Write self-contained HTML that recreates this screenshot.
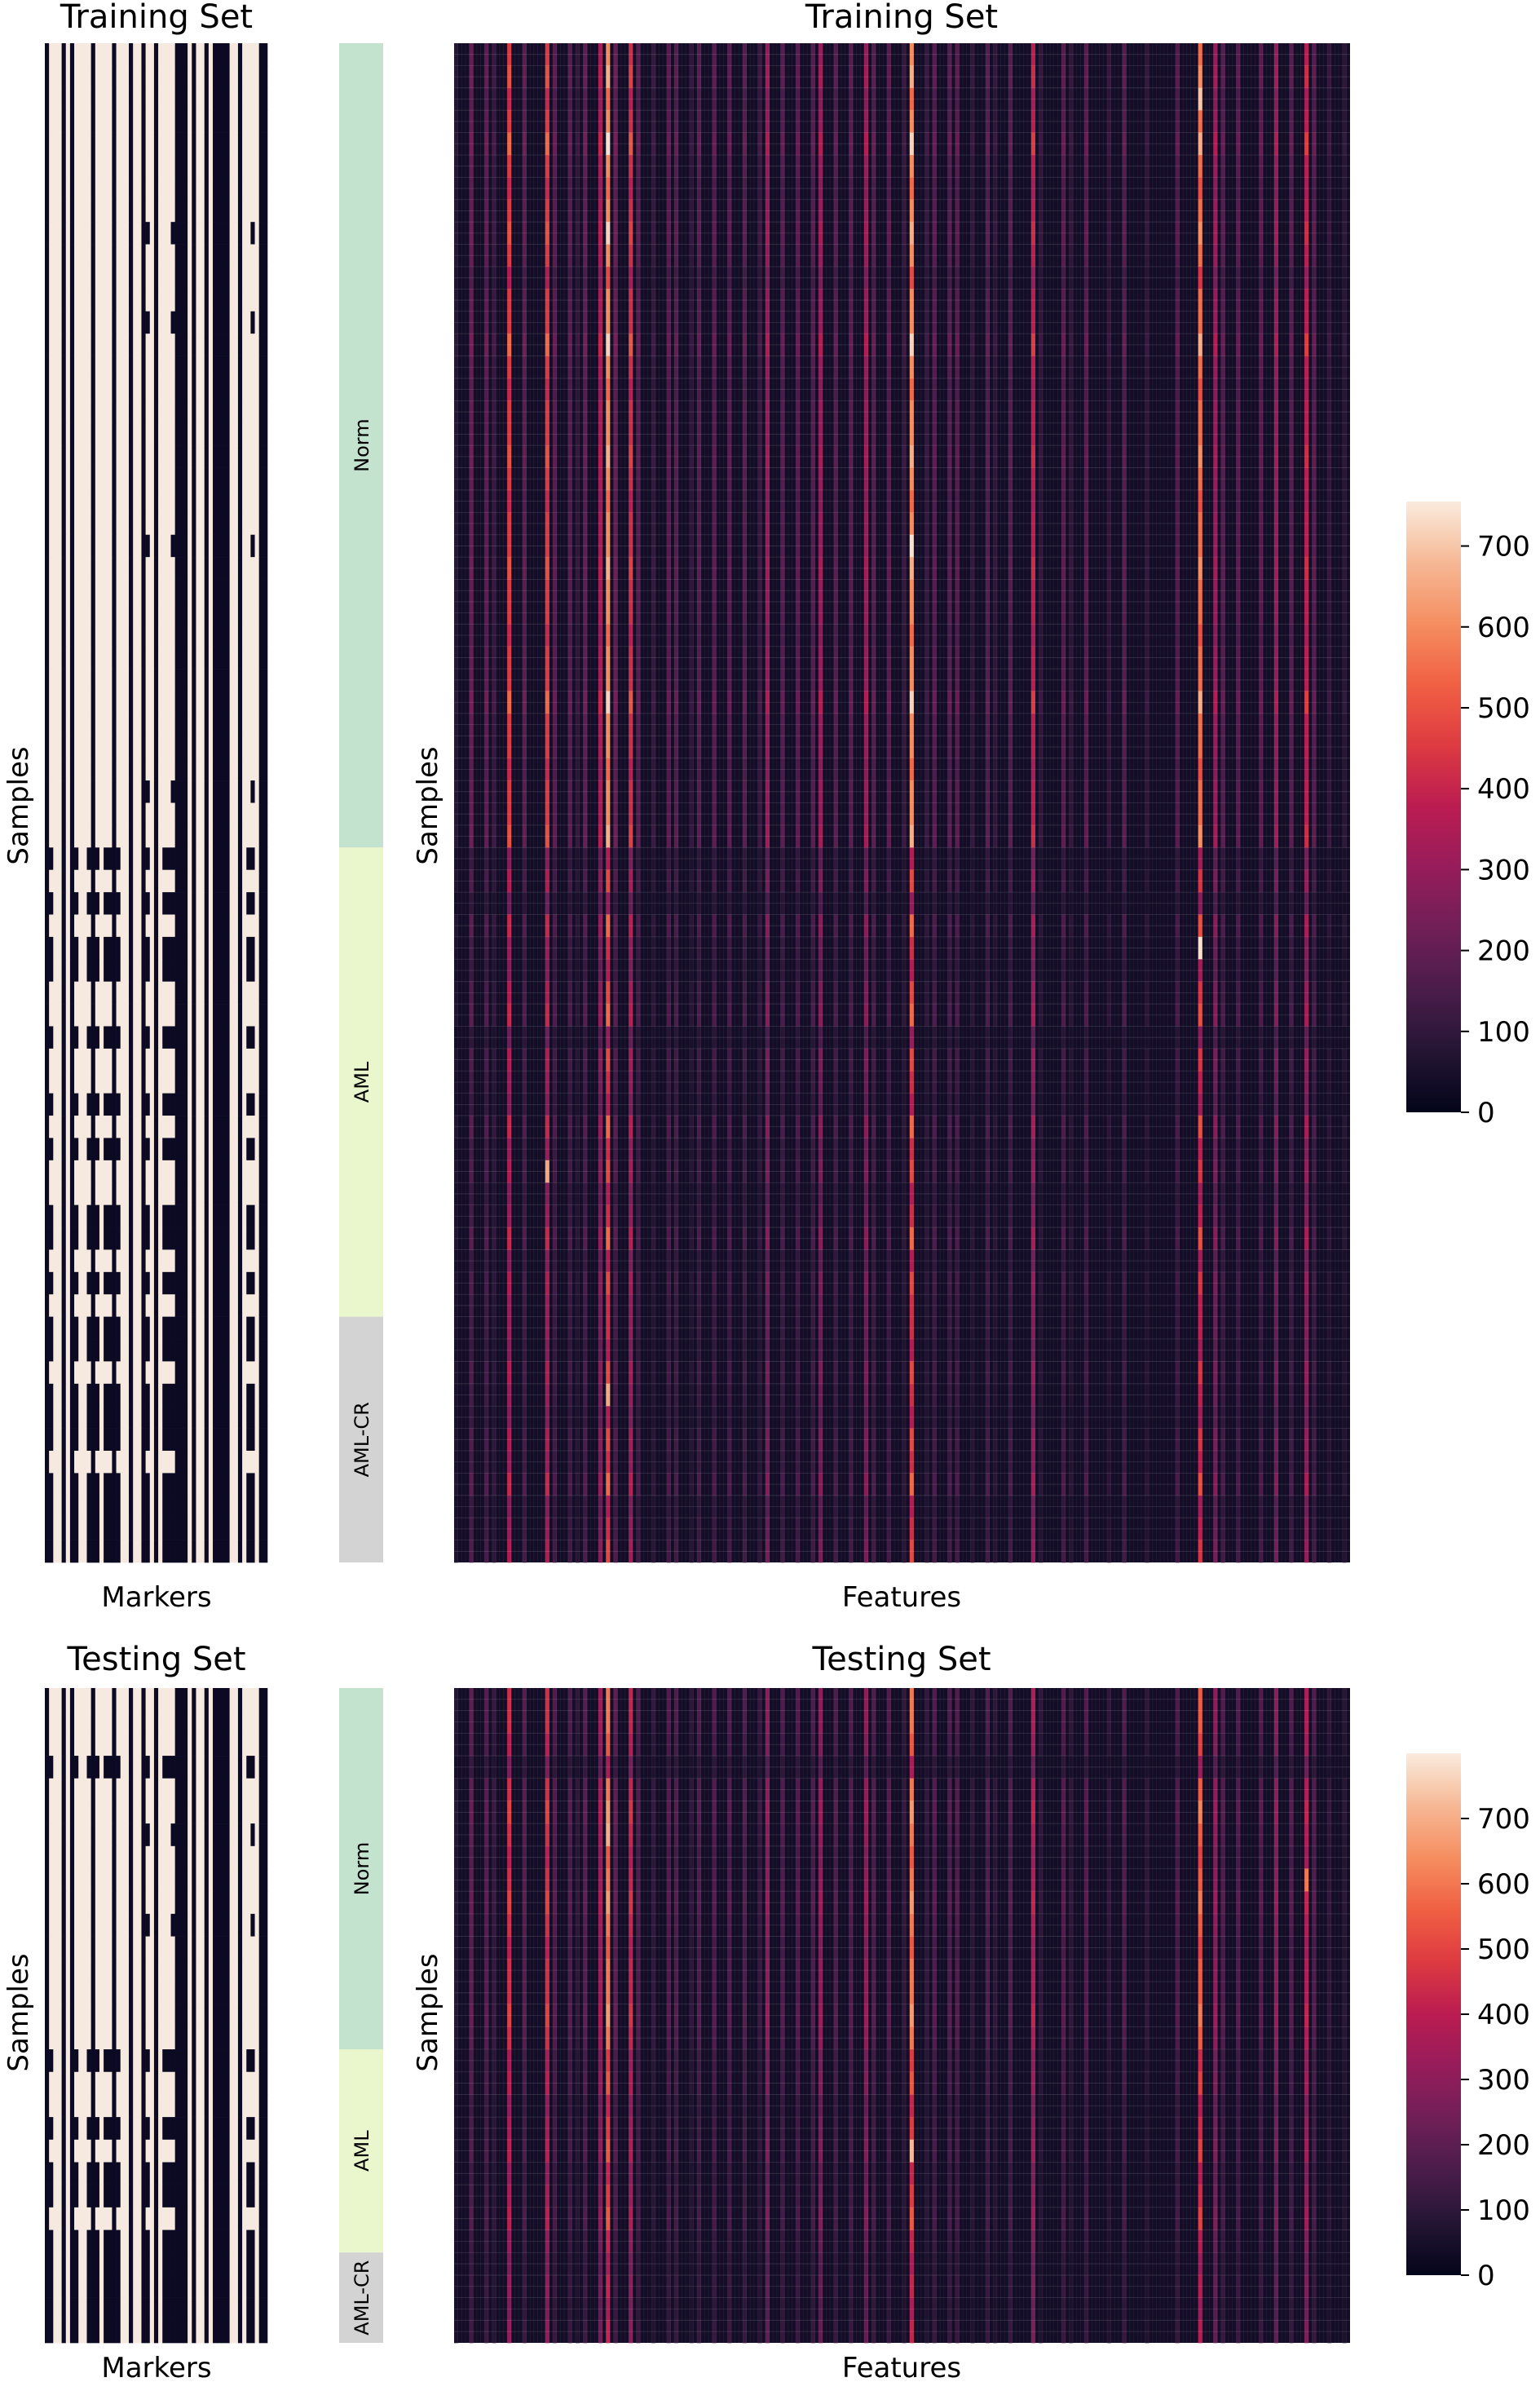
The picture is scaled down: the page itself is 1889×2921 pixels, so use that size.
<!DOCTYPE html>
<html><head><meta charset="utf-8"><style>
body{margin:0;background:#fff}
svg{display:block;font-family:"DejaVu Sans","Liberation Sans",sans-serif}
</style></head><body>
<svg id="fig" width="1889" height="2921" viewBox="0 0 1889 2921" xmlns="http://www.w3.org/2000/svg">
<text x="192" y="34" font-size="40" text-anchor="middle">Training Set</text>
<text x="1106" y="34" font-size="40" text-anchor="middle">Training Set</text>
<text x="192" y="1970" font-size="34" text-anchor="middle">Markers</text>
<text x="1106" y="1970" font-size="34" text-anchor="middle">Features</text>
<text transform="translate(34,988) rotate(-90)" font-size="34" text-anchor="middle">Samples</text>
<text transform="translate(536,988) rotate(-90)" font-size="34" text-anchor="middle">Samples</text>
<text x="192" y="2048" font-size="40" text-anchor="middle">Testing Set</text>
<text x="1106" y="2048" font-size="40" text-anchor="middle">Testing Set</text>
<text x="192" y="2915" font-size="34" text-anchor="middle">Markers</text>
<text x="1106" y="2915" font-size="34" text-anchor="middle">Features</text>
<text transform="translate(34,2468) rotate(-90)" font-size="34" text-anchor="middle">Samples</text>
<text transform="translate(536,2468) rotate(-90)" font-size="34" text-anchor="middle">Samples</text>
<g id="layer"></g>
</svg>
<script>
// ---- data ----
const featureStripeIdx = [0,2,4,5,7,9,12,13,15,16,17,19,20,21,23,24,26,28,29,31,32,34,36,38,40,41,43,45,47,48,50,52,54,55,57,59,60,62,63,65,66,68,70,71,73,76,77,80,81,83,86,88,91,95,98,100,101,103,106,108,110,112,113,115,117];
const featureStripeVal = [80,200,180,120,450,180,450,170,170,100,190,330,600,200,420,170,110,170,170,100,170,170,170,170,120,300,170,170,170,300,170,170,300,170,170,110,600,110,170,170,170,100,170,100,170,380,100,170,100,170,100,170,100,160,550,300,170,170,170,300,170,380,170,100,90];
const featureBaseDark = 40;
const trainRowLevel = [1,1.1,0.9,1,1.2,1,0.9,1,1.1,1,0.8,1,1,1.2,1,0.9,1,1,1.1,1,0.9,1,1,1.1,1,1,0.9,1,1,1.2,1,1,0.9,1,1,1.1,
 0.6,0.8,0.5,0.9,0.7,0.6,0.8,0.9,0.5,0.8,0.7,0.6,0.9,0.7,0.8,0.6,0.7,0.9,0.6,0.8,0.7,
 0.7,0.6,0.8,0.7,0.6,0.8,0.7,0.9,0.6,0.7,0.8];
const testRowLevel = [1,1,0.9,0.6,1,1.1,1,0.9,1,1.1,1,0.9,1,1,1.1,1, 0.8,0.9,0.7,0.8,0.9,0.7,0.8,0.9,0.7, 0.6,0.7,0.6,0.7];
const trainHotspots = [[4,20,740],[8,20,720],[2,98,700],[40,98,740],[50,12,650],[22,60,740],[60,20,650]];
const testHotspots = [[5,98,620],[8,112,600],[20,60,720],[6,20,700]];
const markerDarkNorm = [0,4,6,11,16,20,23,26,31,32,33,35,38,40,41,42,43,46,51,52];
const markerDarkHeavy = [1,7,10,12,14,15,17,24,28,29,30,48,49];
const markerDarkPartial = [24,30,49];
const trainMarkerRowType = [0,0,0,0,0,0,0,0,2,0,0,0,2,0,0,0,0,0,0,0,0,0,2,0,0,0,0,0,0,0,0,0,0,2,0,0,
 1,0,1,0,1,1,0,0,1,0,0,1,0,1,0,0,1,1,0,1,0,
 1,1,0,1,1,1,0,1,1,1,1];
const testMarkerRowType = [0,0,0,1,0,0,2,0,0,0,2,0,0,0,0,0, 1,0,0,1,0,1,1,0,1, 1,1,1,1];
const trainClasses = [["Norm",36],["AML",21],["AML-CR",11]];
const testClasses = [["Norm",16],["AML",9],["AML-CR",4]];
const trainTicks = [0,100,200,300,400,500,600,700];
const testTicks = [0,100,200,300,400,500,600,700];
const trainVmax = 755, testVmax = 800;
const N_GROUP = 118, SUB = 2, N_MARK = 53;

// ---- helpers ----
const NS = "http://www.w3.org/2000/svg";
const layer = document.getElementById('layer');
const stops = ["#03051a","#241533","#4a1c4a","#701f57","#961c5b","#bb1c51","#dd3a41","#f06043","#f58e61","#f6b895","#faebdd"];
function hex(h){return [1,3,5].map(i=>parseInt(h.substr(i,2),16));}
function rocket(t){t=Math.max(0,Math.min(1,t));const p=t*10,i=Math.min(9,Math.floor(p)),f=p-i;const a=hex(stops[i]),b=hex(stops[i+1]);return "rgb("+a.map((v,k)=>Math.round(v+(b[k]-v)*f)).join(",")+")";}
function mk(tag,attrs,parent){const e=document.createElementNS(NS,tag);for(const k in attrs)e.setAttribute(k,attrs[k]);(parent||layer).appendChild(e);return e;}
const classColor={"Norm":"#c3e3cf","AML":"#eaf6cb","AML-CR":"#d3d3d3"};

function drawPanel(P){
  const nR=P.rowLevel.length;
  const nC=N_GROUP*SUB;
  const colVal=new Array(N_GROUP).fill(null);
  featureStripeIdx.forEach((c,i)=>colVal[c]=featureStripeVal[i]);
  const hot={};P.hot.forEach(h=>hot[h[0]+"_"+h[1]]=h[2]);
  const fx=557,fw=1099,fy=P.y0,fh=P.y1-P.y0;
  const xs=c=>fx+c*fw/nC, ys=r=>fy+r*fh/nR;
  const g=mk('g',{});
  
  
  const bg=mk('rect',{x:fx,y:fy,width:fw,height:fh,fill:rocket(featureBaseDark/P.vmax)},g);
  
  
  for(let r=0;r<nR;r++)for(let gc=0;gc<N_GROUP;gc++){
    if(colVal[gc]===null)continue;
    let v=colVal[gc]*P.rowLevel[r];const k=r+"_"+gc;if(k in hot)v=hot[k];
    const e=mk('rect',{x:xs(gc*SUB),y:ys(r),width:fw/nC+0.4,height:fh/nR+0.3,fill:rocket(v/P.vmax)},g);
    
    
  }
  for(let r=1;r<nR*2;r++){
    const l=mk('line',{x1:fx,x2:fx+fw,y1:fy+r*fh/(nR*2),y2:fy+r*fh/(nR*2),stroke:"rgba(255,255,255,0.14)","stroke-width":0.8},g);
    
    
  }
  for(let c=1;c<nC;c++){
    const l=mk('line',{x1:xs(c),x2:xs(c),y1:fy,y2:fy+fh,stroke:"rgba(255,255,255,0.06)","stroke-width":0.8},g);
    
    
  }
  // markers heatmap
  const mx=55,mw=273;
  const mxs=c=>mx+c*mw/N_MARK;
  const g2=mk('g',{});
  
  
  for(let r=0;r<nR;r++){
    const t=P.mrt[r];const dark=new Set(markerDarkNorm);
    if(t===1)markerDarkHeavy.forEach(c=>dark.add(c));
    if(t===2)markerDarkPartial.forEach(c=>dark.add(c));
    for(let c=0;c<N_MARK;c++){
      const e=mk('rect',{x:mxs(c),y:ys(r),width:mw/N_MARK+0.3,height:fh/nR+0.3,fill:dark.has(c)?"#0b0a22":"#f6e9df"},g2);
      
      
    }
  }
  // class bar
  let acc=0;
  P.classes.forEach(([name,n])=>{
    const y=ys(acc),h=n*fh/nR;
    const e=mk('rect',{x:416,y:y,width:54,height:h,fill:classColor[name]});
    
    
    const t=mk('text',{transform:`translate(452,${y+h/2}) rotate(-90)`,"font-size":24,"text-anchor":"middle"});
    t.textContent=name;
    
    
    acc+=n;
  });
  // colorbar
  const cx=1725,cw=67,ctop=P.cb0,cbot=P.cb1;
  const yv=v=>cbot-(v/P.vmax)*(cbot-ctop);
  const gid='grad'+P.key;
  const defs=mk('defs',{});const lg=mk('linearGradient',{id:gid,x1:0,y1:1,x2:0,y2:0},defs);
  for(let i=0;i<=20;i++)mk('stop',{offset:i/20,"stop-color":rocket(i/20)},lg);
  const cb=mk('rect',{x:cx,y:ctop,width:cw,height:cbot-ctop,fill:`url(#${gid})`});
  
  
  P.ticks.forEach(v=>{
    const y=yv(v);
    const l=mk('line',{x1:cx+cw,x2:cx+cw+10,y1:y,y2:y,stroke:"#000","stroke-width":2});
    
    
    const t=mk('text',{x:cx+cw+20,y:y+12,"font-size":34});
    t.textContent=v;
    
    
  });
}
drawPanel({key:'train',y0:53,y1:1916,rowLevel:trainRowLevel,hot:trainHotspots,mrt:trainMarkerRowType,classes:trainClasses,vmax:trainVmax,ticks:trainTicks,cb0:615,cb1:1364});
drawPanel({key:'test',y0:2070,y1:2873,rowLevel:testRowLevel,hot:testHotspots,mrt:testMarkerRowType,classes:testClasses,vmax:testVmax,ticks:testTicks,cb0:2150,cb1:2790});
</script>
</body></html>
